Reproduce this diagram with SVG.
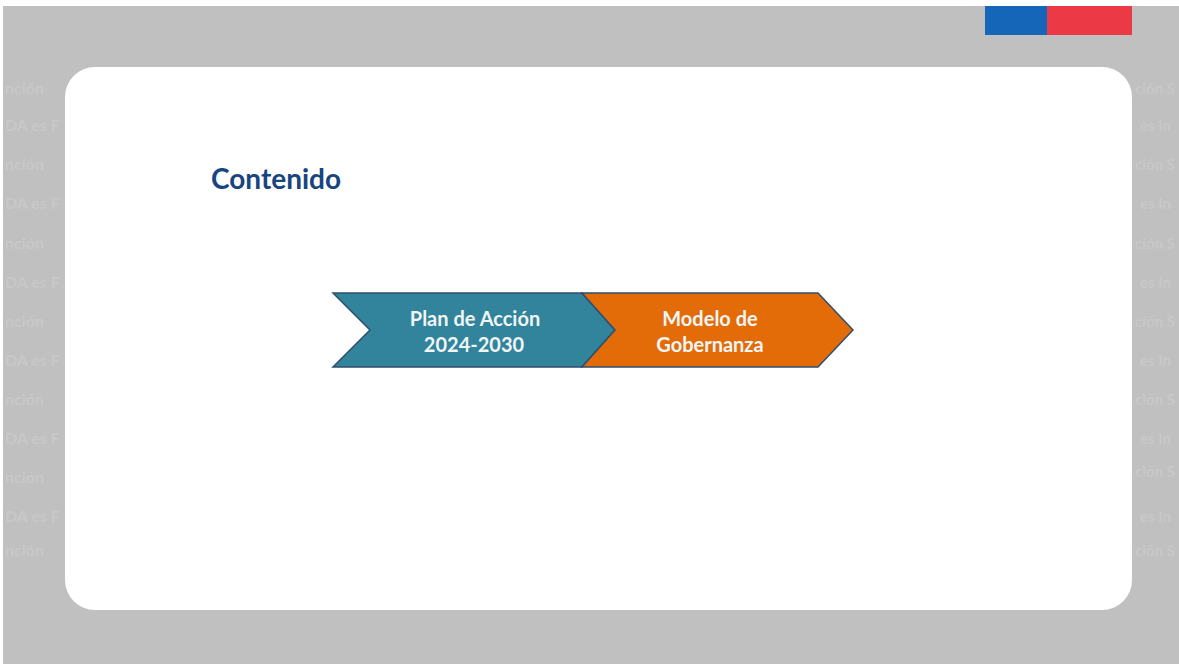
<svg xmlns="http://www.w3.org/2000/svg" width="1179" height="664" viewBox="0 0 1179 664">
<style>
.wm{font-family:Lato,"Open Sans","DejaVu Sans",sans-serif;font-weight:700;font-size:16px;fill:#c8c8c8}
.wmr{font-family:Lato,"Open Sans","DejaVu Sans",sans-serif;font-weight:700;font-size:15px;fill:#c8c8c8}
.lbl{font-family:Lato,"Open Sans","DejaVu Sans",sans-serif;font-weight:700;font-size:20px;fill:#f0f5f5;text-anchor:middle}
.chev{stroke:#2f4f6e;stroke-width:1.5;stroke-linejoin:miter}
</style>
<rect x="0" y="0" width="1179" height="664" fill="#ffffff"/>
<rect x="3" y="6" width="1176" height="658" fill="#c0c0c0"/>
<g id="watermark">
<text class="wm" x="5" y="94">nción</text>
<text class="wm" x="5" y="131">DA es F</text>
<text class="wm" x="5" y="170">nción</text>
<text class="wm" x="5" y="209">DA es F</text>
<text class="wm" x="5" y="249">nción</text>
<text class="wm" x="5" y="288">DA es F</text>
<text class="wm" x="5" y="327">nción</text>
<text class="wm" x="5" y="366">DA es F</text>
<text class="wm" x="5" y="405">nción</text>
<text class="wm" x="5" y="444">DA es F</text>
<text class="wm" x="5" y="483">nción</text>
<text class="wm" x="5" y="522">DA es F</text>
<text class="wm" x="5" y="556">nción</text>
<text class="wmr" x="1135" y="94">ción S</text>
<text class="wmr" x="1140" y="131">es In</text>
<text class="wmr" x="1135" y="170">ción S</text>
<text class="wmr" x="1140" y="209">es In</text>
<text class="wmr" x="1135" y="249">ción S</text>
<text class="wmr" x="1140" y="288">es In</text>
<text class="wmr" x="1135" y="327">ción S</text>
<text class="wmr" x="1140" y="366">es In</text>
<text class="wmr" x="1135" y="405">ción S</text>
<text class="wmr" x="1140" y="444">es In</text>
<text class="wmr" x="1135" y="477">ción S</text>
<text class="wmr" x="1140" y="522">es In</text>
<text class="wmr" x="1135" y="556">ción S</text>
</g>
<g id="flag">
<rect x="985" y="6" width="62" height="29" fill="#1565b8"/>
<rect x="1047" y="6" width="85" height="29" fill="#eb3a45"/>
</g>
<rect id="card" x="65" y="67" width="1067" height="543" rx="30" ry="30" fill="#ffffff"/>
<text id="title" x="211" y="189" font-family="Lato,'Open Sans','DejaVu Sans',sans-serif" font-weight="700" font-size="28" fill="#17457f">Contenido</text>
<g id="connectors"></g>
<g id="node-plan">
<polygon class="chev" points="333,293 582,293 615,330 582,367 333,367 370,330" fill="#31849b"/>
<text class="lbl" x="475" y="326">Plan de Acción</text>
<text class="lbl" x="474" y="352">2024-2030</text>
</g>
<g id="node-modelo">
<polygon class="chev" points="582,293 818,293 853,330 818,367 582,367 615,330" fill="#e36c09"/>
<text class="lbl" x="710" y="326">Modelo de</text>
<text class="lbl" x="710" y="352">Gobernanza</text>
</g>
</svg>
